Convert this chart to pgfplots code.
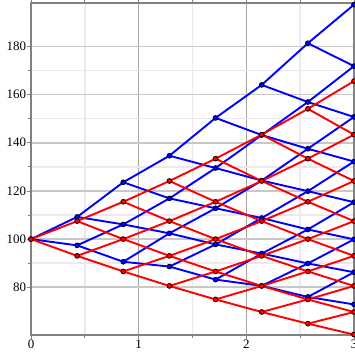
\documentclass[border=0pt]{standalone}
\usepackage{fontspec}
\setmainfont{Liberation Serif}
\usepackage{pgfplots}
\pgfplotsset{compat=1.18}
\definecolor{majgrid}{RGB}{200,200,200}
\definecolor{mingrid}{RGB}{238,230,240}
\definecolor{vgrid}{RGB}{165,165,165}
\definecolor{axcol}{RGB}{130,130,130}
\pgfplotsset{
  bl/.style={color=blue, line width=1.9bp, mark=none},
  rd/.style={color=red, line width=1.9bp, mark=none},
  bm/.style={only marks, mark=*, mark size=2.4bp, mark options={draw=black, fill=blue, line width=0.8bp}},
  rm/.style={only marks, mark=*, mark size=2.4bp, mark options={draw=black, fill=red, line width=0.8bp}},
}
\begin{document}
\begin{tikzpicture}
\begin{axis}[name=ax,
  scale only axis, width=323bp, height=332bp,
  xmin=0, xmax=3, ymin=60.2, ymax=198,
  xtick={0,1,2,3}, ytick={80,100,120,140,160,180},
  minor x tick num=1, minor y tick num=1,
  tick align=outside, major tick length=3.5bp, minor tick length=2.5bp,
  tick style={axcol, line width=0.8bp},
  axis line style={axcol, line width=2bp},
  grid=both,
  major x grid style={vgrid, line width=0.8bp},
  major y grid style={majgrid, line width=1.6bp},
  minor grid style={mingrid, line width=1.5bp},
  ticklabel style={font=\fontsize{13}{15}\selectfont},
  /pgf/number format/assume math mode=true,
  y tick label style={inner sep=1.2bp},
  x tick label style={inner sep=1.5bp},
  clip marker paths=false,
]
% blue tree: up lines
\addplot[bl] coordinates {(0,100)(0.428571,109.2)(0.857143,123.6)(1.285714,134.6)(1.714286,150.3)(2.142857,164.0)(2.571429,181.3)(3,197.3)};
\addplot[bl] coordinates {(0.428571,97.4)(0.857143,106.1)(1.285714,116.9)(1.714286,129.5)(2.142857,143.2)(2.571429,156.9)(3,171.8)};
\addplot[bl] coordinates {(0.857143,90.6)(1.285714,102.4)(1.714286,112.8)(2.142857,124.3)(2.571429,137.5)(3,150.7)};
\addplot[bl] coordinates {(1.285714,88.6)(1.714286,97.8)(2.142857,108.75)(2.571429,119.9)(3,132.2)};
\addplot[bl] coordinates {(1.714286,83.2)(2.142857,94.0)(2.571429,104.0)(3,115.3)};
\addplot[bl] coordinates {(2.142857,80.6)(2.571429,89.9)(3,99.9)};
\addplot[bl] coordinates {(2.571429,76.0)(3,86.25)};
% blue tree: down lines
\addplot[bl] coordinates {(0,100)(0.428571,97.4)(0.857143,90.6)(1.285714,88.6)(1.714286,83.2)(2.142857,80.6)(2.571429,76.0)(3,72.9)};
\addplot[bl] coordinates {(0.428571,109.2)(0.857143,106.1)(1.285714,102.4)(1.714286,97.8)(2.142857,94.0)(2.571429,89.9)(3,86.25)};
\addplot[bl] coordinates {(0.857143,123.6)(1.285714,116.9)(1.714286,112.8)(2.142857,108.75)(2.571429,104.0)(3,99.9)};
\addplot[bl] coordinates {(1.285714,134.6)(1.714286,129.5)(2.142857,124.3)(2.571429,119.9)(3,115.3)};
\addplot[bl] coordinates {(1.714286,150.3)(2.142857,143.2)(2.571429,137.5)(3,132.2)};
\addplot[bl] coordinates {(2.142857,164.0)(2.571429,156.9)(3,150.7)};
\addplot[bl] coordinates {(2.571429,181.3)(3,171.8)};
% red tree: up lines
\addplot[rd] coordinates {(0,100)(0.428571,107.47)(0.857143,115.50)(1.285714,124.12)(1.714286,133.40)(2.142857,143.36)(2.571429,154.07)(3,165.58)};
\addplot[rd] coordinates {(0.428571,93.05)(0.857143,100)(1.285714,107.47)(1.714286,115.50)(2.142857,124.12)(2.571429,133.40)(3,143.36)};
\addplot[rd] coordinates {(0.857143,86.58)(1.285714,93.05)(1.714286,100)(2.142857,107.47)(2.571429,115.50)(3,124.12)};
\addplot[rd] coordinates {(1.285714,80.56)(1.714286,86.58)(2.142857,93.05)(2.571429,100)(3,107.47)};
\addplot[rd] coordinates {(1.714286,74.96)(2.142857,80.56)(2.571429,86.58)(3,93.05)};
\addplot[rd] coordinates {(2.142857,69.75)(2.571429,74.96)(3,80.56)};
\addplot[rd] coordinates {(2.571429,64.90)(3,69.75)};
% red tree: down lines
\addplot[rd] coordinates {(0,100)(0.428571,93.05)(0.857143,86.58)(1.285714,80.56)(1.714286,74.96)(2.142857,69.75)(2.571429,64.90)(3,60.39)};
\addplot[rd] coordinates {(0.428571,107.47)(0.857143,100)(1.285714,93.05)(1.714286,86.58)(2.142857,80.56)(2.571429,74.96)(3,69.75)};
\addplot[rd] coordinates {(0.857143,115.50)(1.285714,107.47)(1.714286,100)(2.142857,93.05)(2.571429,86.58)(3,80.56)};
\addplot[rd] coordinates {(1.285714,124.12)(1.714286,115.50)(2.142857,107.47)(2.571429,100)(3,93.05)};
\addplot[rd] coordinates {(1.714286,133.40)(2.142857,124.12)(2.571429,115.50)(3,107.47)};
\addplot[rd] coordinates {(2.142857,143.36)(2.571429,133.40)(3,124.12)};
\addplot[rd] coordinates {(2.571429,154.07)(3,143.36)};
% node markers
\addplot[bm] coordinates {(0,100)(0.428571,109.2)(0.857143,123.6)(1.285714,134.6)(1.714286,150.3)(2.142857,164.0)(2.571429,181.3)(3,197.3)
 (0.428571,97.4)(0.857143,106.1)(1.285714,116.9)(1.714286,129.5)(2.142857,143.2)(2.571429,156.9)(3,171.8)
 (0.857143,90.6)(1.285714,102.4)(1.714286,112.8)(2.142857,124.3)(2.571429,137.5)(3,150.7)
 (1.285714,88.6)(1.714286,97.8)(2.142857,108.75)(2.571429,119.9)(3,132.2)
 (1.714286,83.2)(2.142857,94.0)(2.571429,104.0)(3,115.3)
 (2.142857,80.6)(2.571429,89.9)(3,99.9)
 (2.571429,76.0)(3,86.25)(3,72.9)};
\addplot[rm] coordinates {(0,100)(0.428571,107.47)(0.857143,115.50)(1.285714,124.12)(1.714286,133.40)(2.142857,143.36)(2.571429,154.07)(3,165.58)
 (0.428571,93.05)(0.857143,100)(1.285714,107.47)(1.714286,115.50)(2.142857,124.12)(2.571429,133.40)(3,143.36)
 (0.857143,86.58)(1.285714,93.05)(1.714286,100)(2.142857,107.47)(2.571429,115.50)(3,124.12)
 (1.285714,80.56)(1.714286,86.58)(2.142857,93.05)(2.571429,100)(3,107.47)
 (1.714286,74.96)(2.142857,80.56)(2.571429,86.58)(3,93.05)
 (2.142857,69.75)(2.571429,74.96)(3,80.56)
 (2.571429,64.90)(3,69.75)(3,60.39)};
\end{axis}
\pgfresetboundingbox
\path[use as bounding box] ([xshift=-31bp,yshift=-20bp]ax.south west) rectangle ([xshift=1bp,yshift=3bp]ax.north east);
\end{tikzpicture}
\end{document}
